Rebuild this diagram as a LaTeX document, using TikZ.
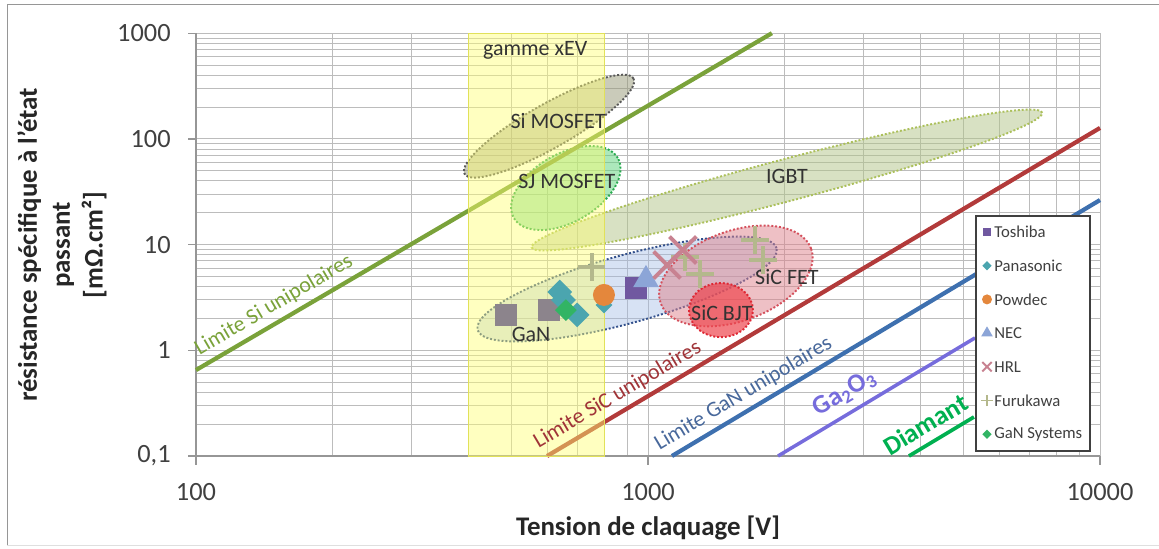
\documentclass[tikz,border=0pt]{standalone}
\usepackage{fontspec}
\setmainfont{Carlito}
\usetikzlibrary{positioning,shapes.geometric,shapes.misc}

\definecolor{gridgray}{RGB}{188,188,188}
\definecolor{axisgray}{RGB}{150,150,150}
\definecolor{tickgray}{RGB}{64,64,64}
\definecolor{siline}{RGB}{122,162,58}
\definecolor{sicline}{RGB}{178,58,58}
\definecolor{sictext}{RGB}{160,52,56}
\definecolor{ganline}{RGB}{62,112,175}
\definecolor{gantext}{RGB}{72,104,155}
\definecolor{gaoline}{RGB}{118,108,220}
\definecolor{diamline}{RGB}{0,176,80}
\definecolor{xevyellow}{RGB}{255,255,115}
\definecolor{xevborder}{RGB}{225,225,90}
\definecolor{cTosh}{RGB}{112,88,160}
\definecolor{cGray}{RGB}{140,132,140}
\definecolor{cPana}{RGB}{75,165,175}
\definecolor{cPowd}{RGB}{228,135,60}
\definecolor{cNec}{RGB}{140,165,215}
\definecolor{cHrl}{RGB}{200,130,145}
\definecolor{cFuru}{RGB}{180,184,140}
\definecolor{cGans}{RGB}{50,180,100}

\begin{document}
\begin{tikzpicture}[
	gridline/.style={gridgray, line width=0.55pt},
	axisline/.style={axisgray, line width=0.7pt},
	ticklabel/.style={text=tickgray, inner sep=0pt, font=\fontsize{15}{17}\selectfont},
	axistitle/.style={text=black!85, inner sep=0pt, align=center, font=\bfseries\fontsize{15.3}{18.7}\selectfont},
	limit/.style={line width=2.4pt},
	limitlabel/.style={sloped, above, inner sep=4pt, font=\fontsize{12.5}{14}\selectfont},
	newlabel/.style={sloped, above, inner sep=5pt, font=\bfseries\fontsize{15}{17}\selectfont},
	blob/.style={ellipse, inner sep=0pt, line width=1.1pt, dash pattern=on 1.1pt off 1.1pt, fill opacity=0.5},
	blobtext/.style={text=black!80, inner sep=0pt, font=\fontsize{12.5}{15}\selectfont},
	mtosh/.style={rectangle, fill=cTosh, inner sep=0pt, minimum size=0.44cm},
	mgray/.style={mtosh, fill=cGray},
	mpana/.style={diamond, fill=cPana, inner sep=0pt, minimum size=0.5cm},
	mpowd/.style={circle, fill=cPowd, inner sep=0pt, minimum size=0.44cm},
	mnec/.style={regular polygon, regular polygon sides=3, fill=cNec, inner sep=0pt, minimum size=0.59cm},
	mhrl/.style={cross out, draw=cHrl, line width=2.2pt, inner sep=0pt, minimum size=0.46cm},
	mfuru/.style={cross out, rotate=45, draw=cFuru, line width=2.2pt, inner sep=0pt, minimum size=0.31cm},
	mgans/.style={diamond, fill=cGans, inner sep=0pt, minimum size=0.44cm},
	legendtext/.style={text=tickgray, inner sep=0pt, font=\fontsize{9.5}{11}\selectfont}
	]

	\useasboundingbox (0,0) rectangle (23.18,10.96);
	\draw[axisgray] (0.14,0.06) -- (0.14,10.88) -- (23.18,10.88);
	\draw[gray!25] (0.14,0.06) -- (23.18,0.06);

	% log-log axes: x = log10(V), y = log10(R)
	\begin{scope}[shift={(-14.16cm,3.954cm)}, x=9.04cm, y=2.114cm]

		% grid
		\foreach \d in {2,3}
		\foreach \k in {2,...,9}
		\draw[gridline] ({\d+log10(\k)},-1) -- ({\d+log10(\k)},3);
		\foreach \d in {-1,0,1,2}
		\foreach \k in {2,...,9}
		\draw[gridline] (2,{\d+log10(\k)}) -- (4,{\d+log10(\k)});
		\foreach \v in {0,1,2,3}
		\draw[gridline] (2,\v) -- (4,\v);
		\foreach \u in {3,4}
		\draw[gridline] (\u,-1) -- (\u,3);

		% axes
		\draw[axisline] (2,3) -- (2,-1) -- (4,-1);
		\foreach \v/\t in {-1/{0,1},0/1,1/10,2/100,3/1000} {
				\draw[axisline] (2,\v) -- ++(-0.16cm,0);
				\node[ticklabel, anchor=east, xshift=-0.5cm] (yt\v) at (2,\v) {\t};
			}
		\foreach \u/\t in {2/100,3/1000,4/10000} {
				\draw[axisline] (\u,-1) -- ++(0,-0.18cm);
				\node[ticklabel, yshift=-0.72cm] (xt\u) at (\u,-1) {\t};
			}

		% domains
		\node[blob, draw=black!65, fill={rgb,255:red,150;green,152;blue,118}, rotate=29.5,
			minimum width=3.88cm, minimum height=0.88cm] (simos) at ({log10(604)},{log10(132)}) {};
		\node[blob, draw={rgb,255:red,40;green,170;blue,80}, fill={rgb,255:red,90;green,210;blue,120}, rotate=30,
			minimum width=2.4cm, minimum height=1.36cm] (sjmos) at ({log10(658)},{log10(34.3)}) {};
		\node[blob, draw={rgb,255:red,172;green,192;blue,92}, fill={rgb,255:red,178;green,196;blue,135}, rotate=14.8,
			minimum width=10.56cm, minimum height=0.84cm] (igbt) at ({log10(2030)},{log10(40.8)}) {};
		\node[blob, draw={rgb,255:red,50;green,80;blue,140}, fill={rgb,255:red,160;green,185;blue,228}, fill opacity=0.42, rotate=15.3,
			minimum width=6.2cm, minimum height=1.36cm] (gan) at ({log10(899)},{log10(3.8)}) {};
		\node[blob, draw={rgb,255:red,212;green,80;blue,92}, fill={rgb,255:red,222;green,130;blue,140}, rotate=20,
			minimum width=3.2cm, minimum height=1.8cm] (sicfet) at ({log10(1565)},{log10(5.05)}) {};
		\node[blob, draw={rgb,255:red,222;green,40;blue,52}, fill={rgb,255:red,238;green,70;blue,78}, fill opacity=0.7,
			minimum width=1.28cm, minimum height=1.08cm] (sicbjt) at ({log10(1450)},{log10(2.4)}) {};

		% unipolar limits
		\coordinate (si0) at (2,{log10(0.65)});
		\coordinate (si1) at ({log10(1880)},3);
		\coordinate (sic0) at ({log10(598)},-1);
		\coordinate (sic1) at (4,{log10(127)});
		\coordinate (gan0) at ({log10(1130)},-1);
		\coordinate (gan1) at (4,{log10(26.4)});
		\coordinate (gao0) at ({log10(1940)},-1);
		\coordinate (gao1) at ({log10(5290)},{log10(1.31)});
		\coordinate (dia0) at ({log10(3779)},-1);
		\coordinate (dia1) at ({log10(5262)},{log10(0.234)});
		\draw[limit, siline] (si0) -- (si1);
		\draw[limit, sicline] (sic0) -- (sic1);
		\draw[limit, ganline] (gan0) -- (gan1);
		\draw[line width=2pt, gaoline] (gao0) -- (gao1);
		\draw[line width=2.1pt, diamline] (dia0) -- (dia1);

		% xEV range
		\fill[xevyellow, fill opacity=0.45] ({log10(400)},-1) rectangle ({log10(800)},3);
		\draw[xevborder] ({log10(400)},-1) rectangle ({log10(800)},3);
		\node[blobtext] (xev) at ({log10(563)},{log10(693)}) {gamme xEV};

		% line labels
		\path (si0) -- (si1) node[limitlabel, pos=0.15, text=siline] {Limite Si unipolaires};
		\path (sic0) -- (sic1) node[limitlabel, pos=0.143, text=sictext] {Limite SiC unipolaires};
		\path (gan0) -- (gan1) node[limitlabel, pos=0.187, text=gantext] {Limite GaN unipolaires};
		\path (gao0) -- (gao1) node[newlabel, pos=0.39, text=gaoline] {Ga\textsubscript{2}O\textsubscript{3}};
		\path (dia0) -- (dia1) node[newlabel, pos=0.4, text=diamline] {Diamant};

		% domain labels
		\node[blobtext, xshift=0.18cm, yshift=0.1cm] at (simos) {Si MOSFET};
		\node[blobtext, xshift=0.02cm, yshift=0.14cm] at (sjmos) {SJ MOSFET};
		\node[blobtext, yshift=0.08cm] at (igbt) {IGBT};
		\node[blobtext, xshift=-1.92cm, yshift=-0.9cm] at (gan) {GaN};
		\node[blobtext, xshift=1.02cm, yshift=-0.02cm] at (sicfet) {SiC FET};
		\node[blobtext, xshift=0.02cm, yshift=-0.06cm] at (sicbjt) {SiC BJT};

		% devices
		\node[mgray] (g1) at ({log10(486)},{log10(2.16)}) {};
		\node[mgray] (g2) at ({log10(604)},{log10(2.40)}) {};
		\node[mpana] (p1) at ({log10(638)},{log10(3.56)}) {};
		\node[mpana] (p2) at ({log10(650)},{log10(2.99)}) {};
		\node[mpana] (p3) at ({log10(697)},{log10(2.16)}) {};
		\node[mgans] (s1) at ({log10(658)},{log10(2.40)}) {};
		\node[mpana, minimum size=0.34cm] (p4) at ({log10(799)},{log10(2.68)}) {};
		\node[mpowd] (w1) at ({log10(799)},{log10(3.34)}) {};
		\node[mtosh] (t1) at ({log10(941)},{log10(3.88)}) {};
		\node[mnec] (n1) at ({log10(990)},{log10(4.66)}) {};
		\node[mfuru] (f1) at ({log10(751)},{log10(6.14)}) {};
		\node[mfuru] (f2) at ({log10(1208)},{log10(7.63)}) {};
		\node[mfuru] (f3) at ({log10(1303)},{log10(5.27)}) {};
		\node[mfuru] (f4) at ({log10(1725)},{log10(11.05)}) {};
		\node[mfuru] (f5) at ({log10(1796)},{log10(7.15)}) {};
		\node[mhrl] (h1) at ({log10(1102)},{log10(6.41)}) {};
		\node[mhrl] (h2) at ({log10(1195)},{log10(8.89)}) {};
	\end{scope}

	% axis titles
	\node[axistitle] (xtitle) at (12.96,0.40) {Tension de claquage [V]};
	\node[axistitle, rotate=90] (ytitle) at (1.24,6.06) {résistance spécifique à l'état\\passant\\{}[mΩ.cm²]};

	% legend
	\node[draw=black!75, fill=white, line width=0.9pt, inner sep=0pt,
		minimum width=2.28cm, minimum height=4.7cm] (legend) at (20.66,4.29) {};
	\foreach \mk/\sz/\name [count=\i] in {mtosh/0.17cm/Toshiba, mpana/0.2cm/Panasonic,
			mpowd/0.2cm/Powdec, mnec/0.27cm/NEC, mhrl/0.15cm/HRL, mfuru/0.12cm/Furukawa,
			mgans/0.2cm/GaN Systems} {
			\node[\mk, minimum size=\sz, line width=1.1pt] (lm\i) at (19.74,{6.32-0.674*(\i-1)}) {};
			\node[legendtext, anchor=west] (lt\i) at (19.88,{6.32-0.674*(\i-1)}) {\name};
		}

\end{tikzpicture}
\end{document}
